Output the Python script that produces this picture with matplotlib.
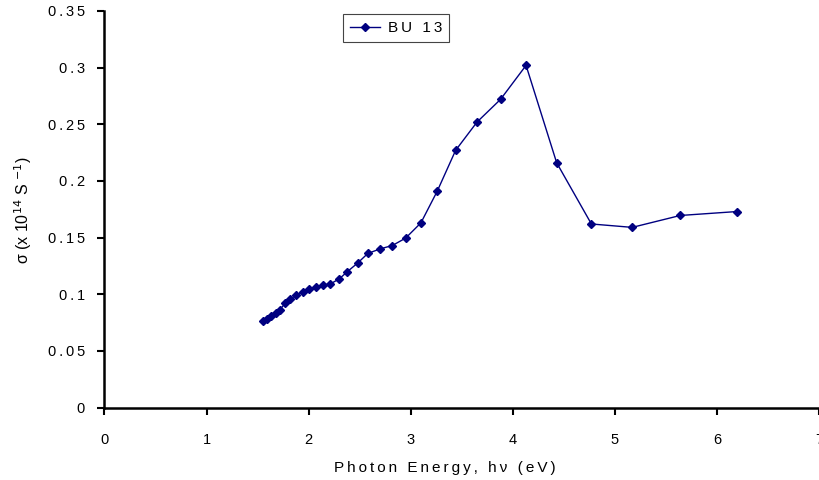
import numpy as np
import matplotlib
matplotlib.use('Agg')
import matplotlib.pyplot as plt

plt.rcParams['font.family'] = ['Liberation Sans', 'DejaVu Sans']

# photon energy (eV) and conductivity (x 10^14 S^-1) for sample BU 13
energy = [1.55, 1.59, 1.63, 1.68, 1.72, 1.77, 1.82, 1.88, 1.94, 2.00,
          2.07, 2.14, 2.21, 2.30, 2.38, 2.48, 2.58, 2.70, 2.82, 2.95,
          3.10, 3.26, 3.44, 3.65, 3.88, 4.13, 4.43, 4.77, 5.17, 5.64, 6.20]
sigma = [0.0765, 0.0785, 0.0805, 0.0835, 0.0865, 0.092, 0.0955, 0.0995, 0.102, 0.105,
         0.106, 0.108, 0.109, 0.1135, 0.120, 0.1275, 0.136, 0.140, 0.143, 0.1495,
         0.163, 0.191, 0.227, 0.252, 0.272, 0.302, 0.216, 0.162, 0.159, 0.1695, 0.173]

xticks = [0, 1, 2, 3, 4, 5, 6, 7]
yticks = [0, 0.05, 0.1, 0.15, 0.2, 0.25, 0.3, 0.35]
yticklabels = ['0', '0.05', '0.1', '0.15', '0.2', '0.25', '0.3', '0.35']


def spaced(s, sep='\u2009'):
    # old excel export has wide letter spacing
    return sep.join(s)


fig = plt.figure(figsize=(8.19, 4.8), dpi=100)
ax = fig.add_axes([104.5 / 819, 1 - 407.5 / 480, 714.5 / 819, 396.5 / 480])

ax.plot(energy, sigma, color='#000080', linewidth=1.0, marker='D',
        markersize=4, label=spaced('BU 13'))

ax.set_xlim(0, 7)
ax.set_ylim(0, 0.35)
ax.set_xticks(xticks)
ax.set_xticklabels([spaced(str(t)) for t in xticks])
ax.set_yticks(yticks)
ax.set_yticklabels([spaced(t) for t in yticklabels])

for s in ['top', 'right']:
    ax.spines[s].set_visible(False)
for s in ['left', 'bottom']:
    ax.spines[s].set_linewidth(1.8)
    ax.spines[s].set_clip_on(False)
ax.tick_params(direction='out', length=5, width=1.5, labelsize=10.5)
ax.tick_params(axis='x', pad=13)
ax.tick_params(axis='y', pad=9)

ax.set_xlabel(spaced('Photon Energy, h\u03bd (eV)'), fontsize=11)
ax.xaxis.set_label_coords(340.5 / 714.5, -(461 - 407.5) / 396.5)
ax.set_ylabel('\u03c3 (x 10$^{14}$ S $^{-1}$)', fontsize=11.5)
ax.yaxis.set_label_coords(-(104.5 - 34) / 714.5, (407.5 - 210) / 396.5)

leg = ax.legend(loc='upper left', bbox_to_anchor=(343 / 819, 1 - 14 / 480),
                bbox_transform=fig.transFigure, fontsize=11, fancybox=False,
                framealpha=1, edgecolor='#444444', borderpad=0.45,
                handlelength=2.0, handletextpad=0.5, borderaxespad=0)
leg.get_frame().set_linewidth(0.8)

fig.savefig('out.png', dpi=100)
